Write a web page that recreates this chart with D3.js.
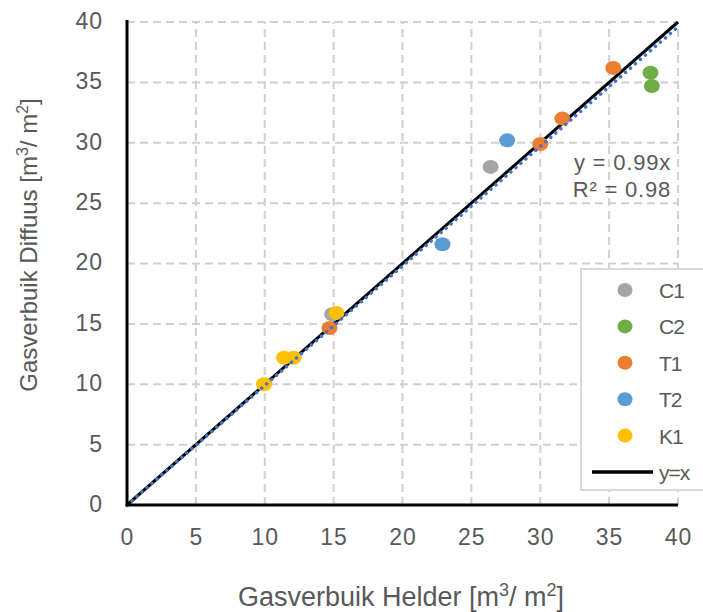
<!DOCTYPE html>
<html>
<head>
<meta charset="utf-8">
<script src="https://cdn.jsdelivr.net/npm/d3@7"></script>
<style>
  body { margin: 0; background: #fff; }
  svg text { font-family: "Liberation Sans", Arial, sans-serif; fill: #595959; }
</style>
</head>
<body>
<svg id="chart" width="703" height="612"></svg>
<script>
// series (x = Helder, y = Diffuus)
var seriesNames = ['C1', 'C2', 'T1', 'T2', 'K1'];
var seriesColours = ['#a5a5a5', '#70ad47', '#ed7d31', '#5b9bd5', '#ffc000'];
var c1Helder = [14.9, 26.4];
var c1Diffuus = [15.8, 28.0];
var c2Helder = [38.0, 38.1];
var c2Diffuus = [35.8, 34.7];
var t1Helder = [14.7, 30.0, 31.6, 35.3];
var t1Diffuus = [14.65, 29.9, 32.0, 36.2];
var t2Helder = [22.9, 27.6];
var t2Diffuus = [21.6, 30.2];
var k1Helder = [9.95, 11.4, 12.1, 15.2];
var k1Diffuus = [10.0, 12.2, 12.2, 15.9];
var ticks = [0, 5, 10, 15, 20, 25, 30, 35, 40];
var trendSlope = 0.99;
var trendR2 = 0.98;

var helderList = [c1Helder, c2Helder, t1Helder, t2Helder, k1Helder];
var diffuusList = [c1Diffuus, c2Diffuus, t1Diffuus, t2Diffuus, k1Diffuus];

var margins = { top: 22, left: 127, right: 25, bottom: 107 },
    width = 703 - margins.left - margins.right,
    height = 612 - margins.top - margins.bottom;

var svg = d3.select('#chart');

var xScale = d3.scaleLinear().domain([0, 40]).range([margins.left, margins.left + width]);
var yScale = d3.scaleLinear().domain([0, 40]).range([margins.top + height, margins.top]);

// gridlines
var grid = svg.append('g').attr('class', 'grid')
    .attr('stroke', '#d0d0d0').attr('stroke-width', 2).attr('stroke-dasharray', '8,5');
grid.selectAll('.vg').data(ticks.slice(1)).enter().append('line')
    .attr('x1', function(d) { return xScale(d); })
    .attr('x2', function(d) { return xScale(d); })
    .attr('y1', yScale(0)).attr('y2', yScale(40));
grid.selectAll('.hg').data(ticks.slice(1)).enter().append('line')
    .attr('y1', function(d) { return yScale(d); })
    .attr('y2', function(d) { return yScale(d); })
    .attr('x1', xScale(0)).attr('x2', xScale(40));

// axes
var xAxis = d3.axisBottom(xScale).tickValues(ticks).tickSize(0).tickPadding(24);
var yAxis = d3.axisLeft(yScale).tickValues(ticks).tickSize(0).tickPadding(24);

var gx = svg.append('g').attr('transform', 'translate(0,' + yScale(0) + ')').call(xAxis);
var gy = svg.append('g').attr('transform', 'translate(' + xScale(0) + ',0)').call(yAxis);
[gx, gy].forEach(function(g) {
  g.select('.domain').remove();
  g.selectAll('text').attr('font-size', 23).style('font-family', '"Liberation Sans", Arial, sans-serif')
    .attr('fill', '#595959').style('letter-spacing', '1px');
});
gy.selectAll('text').attr('dy', '0.28em');

// y = x line (under the markers)
svg.append('line')
    .attr('x1', xScale(0)).attr('y1', yScale(0))
    .attr('x2', xScale(40)).attr('y2', yScale(40))
    .attr('stroke', '#000').attr('stroke-width', 3);

// markers
seriesNames.forEach(function(name, i) {
  var pts = helderList[i].map(function(h, j) { return { x: h, y: diffuusList[i][j] }; });
  svg.append('g').selectAll('ellipse').data(pts).enter().append('ellipse')
      .attr('cx', function(d) { return xScale(d.x); })
      .attr('cy', function(d) { return yScale(d.y); })
      .attr('rx', 8).attr('ry', 7)
      .attr('fill', seriesColours[i]);
});

// linear trendline through origin
svg.append('line')
    .attr('x1', xScale(0)).attr('y1', yScale(0))
    .attr('x2', xScale(40)).attr('y2', yScale(40 * trendSlope))
    .attr('stroke', '#4472c4').attr('stroke-width', 3.5)
    .attr('stroke-dasharray', '0.1,6.5').attr('stroke-linecap', 'round');

// axis lines
svg.append('line')
    .attr('x1', xScale(0)).attr('x2', xScale(0))
    .attr('y1', yScale(0) + 1.5).attr('y2', yScale(40) - 2)
    .attr('stroke', '#000').attr('stroke-width', 3);
svg.append('line')
    .attr('x1', xScale(0)).attr('x2', xScale(40))
    .attr('y1', yScale(0)).attr('y2', yScale(0))
    .attr('stroke', '#000').attr('stroke-width', 3);

// equation
svg.append('text').attr('x', 671).attr('y', 170).attr('text-anchor', 'end')
    .attr('font-size', 22).style('letter-spacing', '0.8px')
    .text('y = ' + trendSlope + 'x');
svg.append('text').attr('x', 671).attr('y', 197).attr('text-anchor', 'end')
    .attr('font-size', 22).style('letter-spacing', '0.8px')
    .text('R² = ' + trendR2);

// legend
var legend = svg.append('g');
legend.append('rect')
    .attr('x', 581).attr('y', 269).attr('width', 130).attr('height', 221)
    .attr('fill', '#fff').attr('stroke', '#d9d9d9').attr('stroke-width', 2);
var legendItems = seriesNames.concat(['y=x']);
var legendY = d3.scalePoint().domain(legendItems).range([290, 472]);
legendItems.forEach(function(name, i) {
  var ly = legendY(name);
  if (i < seriesNames.length) {
    legend.append('ellipse').attr('cx', 625).attr('cy', ly).attr('rx', 7.5).attr('ry', 7)
        .attr('fill', seriesColours[i]);
  } else {
    legend.append('line').attr('x1', 592).attr('x2', 653).attr('y1', ly).attr('y2', ly)
        .attr('stroke', '#000').attr('stroke-width', 3.5);
  }
  legend.append('text').attr('x', 659).attr('y', ly + 8)
      .attr('font-size', 21).style('letter-spacing', '-1px').text(name);
});

// axis titles
var xt = svg.append('text').attr('x', 401).attr('y', 606).attr('text-anchor', 'middle')
    .attr('font-size', 27).style('letter-spacing', '0px');
xt.append('tspan').text('Gasverbuik Helder [m');
xt.append('tspan').attr('dy', -10).attr('font-size', 18).text('3');
xt.append('tspan').attr('dy', 10).text('/ m');
xt.append('tspan').attr('dy', -10).attr('font-size', 18).text('2');
xt.append('tspan').attr('dy', 10).text(']');

var yt = svg.append('text').attr('transform', 'translate(37,' + 245 + ') rotate(-90)')
    .attr('text-anchor', 'middle').attr('font-size', 24).style('letter-spacing', '0px');
yt.append('tspan').text('Gasverbuik Diffuus [m');
yt.append('tspan').attr('dy', -9).attr('font-size', 16).text('3');
yt.append('tspan').attr('dy', 9).text('/ m');
yt.append('tspan').attr('dy', -9).attr('font-size', 16).text('2');
yt.append('tspan').attr('dy', 9).text(']');
</script>
</body>
</html>
